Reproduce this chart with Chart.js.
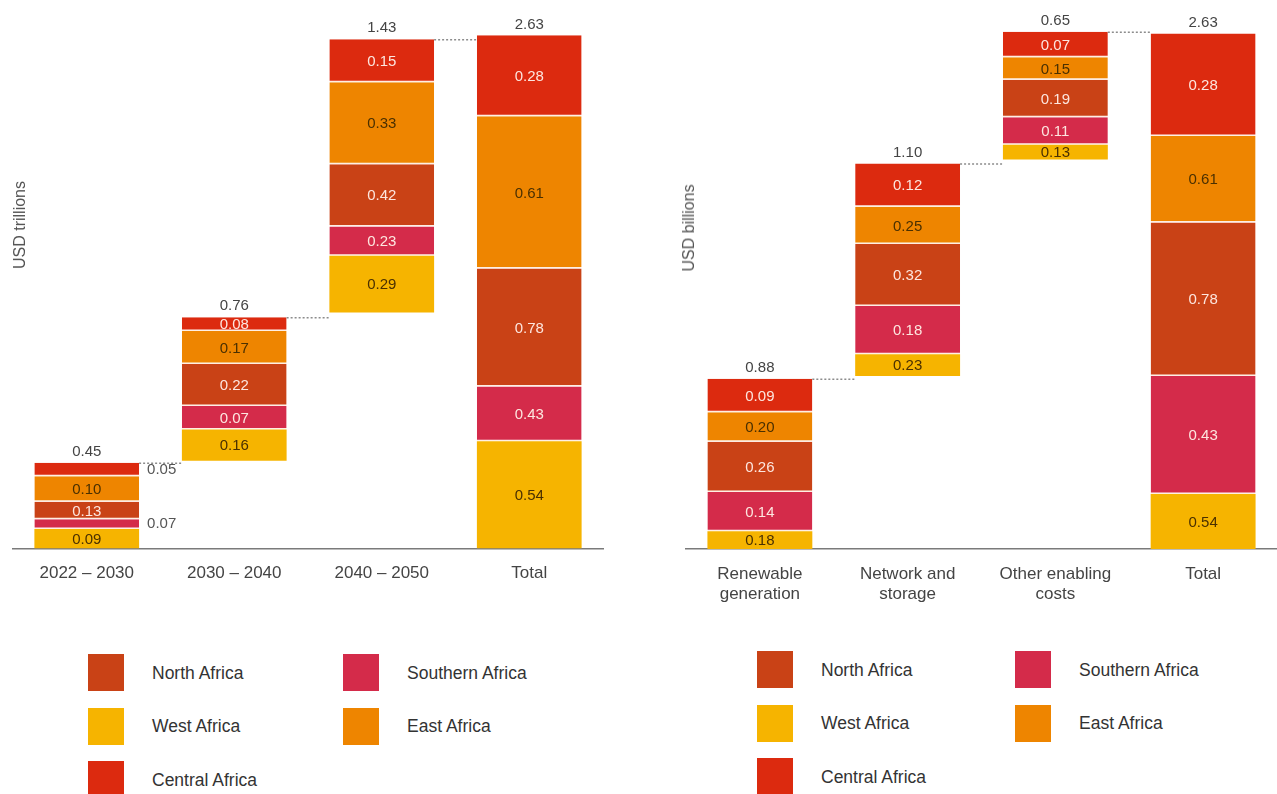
<!DOCTYPE html>
<html>
<head>
<meta charset="utf-8">
<script src="https://cdn.jsdelivr.net/npm/chart.js@4.4.1/dist/chart.umd.min.js"></script>
<style>
body{margin:0;background:#fff;font-family:"Liberation Sans",Arial,sans-serif;}
#page{position:relative;width:1277px;height:794px;overflow:hidden;}
.box{position:absolute;top:0;}
.ytitle{position:absolute;transform:translate(-50%,-50%) rotate(-90deg);font-size:16px;color:#555;white-space:nowrap;}
.sw{position:absolute;width:36px;height:37px;}
.lt{position:absolute;font-size:17.5px;color:#333;transform:translateY(-50%);white-space:nowrap;}
</style>
</head>
<body>
<div id="page">
  <div class="box" style="left:0;width:640px;height:620px"><canvas id="left" width="640" height="620"></canvas></div>
  <div class="box" style="left:640px;width:637px;height:620px"><canvas id="right" width="637" height="620"></canvas></div>
  <div class="ytitle" style="left:20px;top:225px">USD trillions</div>
  <div class="ytitle" style="left:689px;top:228px">USD billions</div>
  <div id="legends"></div>
</div>
<script>
// =========================== Data
const regions = ['West Africa', 'Southern Africa', 'North Africa', 'East Africa', 'Central Africa']
const colors = ['#f6b400', '#d42b4a', '#c94216', '#ee8500', '#dc2a0f']
const textColors = ['#4a3000', '#fde6df', '#fde6df', '#4a3000', '#fde6df']

// left chart - by period (USD trillions)
const periods = ['2022 – 2030', '2030 – 2040', '2040 – 2050', 'Total']
const periodTotals = [0.45, 0.76, 1.43, 2.63]
// heights as drawn in the picture
const periodWest     = [0.10, 0.16, 0.29, 0.55]
const periodSouthern = [0.05, 0.12, 0.15, 0.28]
const periodNorth    = [0.09, 0.215, 0.32, 0.605]
const periodEast     = [0.13, 0.17, 0.42, 0.78]
const periodCentral  = [0.07, 0.07, 0.22, 0.415]
// numbers printed on the segments
const periodWestLbl     = ['0.09', '0.16', '0.29', '0.54']
const periodSouthernLbl = ['0.07', '0.07', '0.23', '0.43']
const periodNorthLbl    = ['0.13', '0.22', '0.42', '0.78']
const periodEastLbl     = ['0.10', '0.17', '0.33', '0.61']
const periodCentralLbl  = ['0.05', '0.08', '0.15', '0.28']

// right chart - by cost type (USD billions)
const costTypes = [['Renewable', 'generation'], ['Network and', 'storage'], ['Other enabling', 'costs'], 'Total']
const costTotals = [0.88, 1.10, 0.65, 2.63]
const costWest     = [0.09, 0.11, 0.075, 0.28]
const costSouthern = [0.20, 0.245, 0.14, 0.60]
const costNorth    = [0.255, 0.315, 0.19, 0.78]
const costEast     = [0.15, 0.19, 0.115, 0.44]
const costCentral  = [0.17, 0.22, 0.13, 0.52]
const costWestLbl     = ['0.18', '0.23', '0.13', '0.54']
const costSouthernLbl = ['0.14', '0.18', '0.11', '0.43']
const costNorthLbl    = ['0.26', '0.32', '0.19', '0.78']
const costEastLbl     = ['0.20', '0.25', '0.15', '0.61']
const costCentralLbl  = ['0.09', '0.12', '0.07', '0.28']

Chart.defaults.font.family = '"Liberation Sans", Arial, sans-serif'

// =========================== Callbacks / Functions
function build_datasets(heights, labels, totals){
    // waterfall bases: each step starts at the running total, last bar (Total) from 0
    const n = totals.length
    const bases = []
    let run = 0
    for(let j = 0; j < n; j++){
        bases.push(j == n - 1 ? 0 : run)
        run += totals[j]
    }
    const acc = bases.slice()
    return heights.map((h, i) => {
        const data = h.map((v, j) => {
            const lo = acc[j]
            acc[j] = lo + v
            return [lo, acc[j]]
        })
        return {
            label: regions[i],
            data: data,
            printed: labels[i],
            textColor: textColors[i],
            backgroundColor: colors[i],
            borderColor: 'rgba(255,236,222,0.85)',
            borderWidth: i == 0 ? 0 : {top: 0, left: 0, right: 0, bottom: 1.5},
            borderSkipped: false,
        }
    })
}

const segLabels = {
    id: 'segLabels',
    afterDatasetsDraw(chart, args, opts){
        const ctx = chart.ctx
        ctx.save()
        ctx.font = '15px "Liberation Sans", Arial, sans-serif'
        ctx.textBaseline = 'middle'
        const outside = opts.outside || {}
        chart.data.datasets.forEach((ds, i) => {
            const meta = chart.getDatasetMeta(i)
            meta.data.forEach((bar, j) => {
                const mid = (bar.y + bar.base) / 2
                if(outside[i] && outside[i].includes(j)){
                    ctx.fillStyle = '#555'
                    ctx.textAlign = 'left'
                    ctx.fillText(ds.printed[j], bar.x + bar.width / 2 + 8, mid)
                }else{
                    ctx.fillStyle = ds.textColor
                    ctx.textAlign = 'center'
                    ctx.fillText(ds.printed[j], bar.x, mid + 1)
                }
            })
        })

        // totals above bars + dotted connectors
        const last = chart.getDatasetMeta(chart.data.datasets.length - 1).data
        ctx.fillStyle = '#444'
        ctx.textAlign = 'center'
        last.forEach((bar, j) => {
            ctx.fillText(opts.totals[j].toFixed(2), bar.x, bar.y - 11)
            if(j < last.length - 1){
                const nx = last[j + 1]
                ctx.beginPath()
                ctx.setLineDash([2, 2])
                ctx.lineWidth = 1.5
                ctx.strokeStyle = '#8c8c8c'
                ctx.moveTo(bar.x + bar.width / 2, bar.y + 0.5)
                ctx.lineTo(nx.x - nx.width / 2, bar.y + 0.5)
                ctx.stroke()
            }
        })
        ctx.restore()
    }
}

function waterfall(id, cats, datasets, totals, ymax, pad, outside){
    new Chart(document.getElementById(id), {
        type: 'bar',
        data: {
            labels: cats,
            datasets: datasets
        },
        options: {
            responsive: false,
            animation: false,
            layout: {padding: pad},
            datasets: {
                bar: {
                    grouped: false,
                    categoryPercentage: 1,
                    barPercentage: 0.71
                }
            },
            scales: {
                x: {
                    grid: {display: false},
                    border: {display: true, color: '#7a7a7a', width: 1.5},
                    ticks: {
                        color: '#444',
                        padding: 7,
                        font: {size: 17, lineHeight: 1.2},
                        maxRotation: 0
                    },
                    afterFit: function(scale){ scale.height = 60 }
                },
                y: {
                    display: false,
                    min: 0,
                    max: ymax
                }
            },
            plugins: {
                legend: {display: false},
                tooltip: {enabled: false},
                segLabels: {totals: totals, outside: outside}
            }
        },
        plugins: [segLabels]
    })
}

function legend(x1, x2, y0){
    // 2 columns: North / Southern, West / East, Central
    const order = [2, 1, 0, 3, 4]
    const box = document.getElementById('legends')
    order.forEach((r, k) => {
        const col = k % 2
        const row = Math.floor(k / 2)
        const x = col == 0 ? x1 : x2
        const y = y0 + row * 53.5
        const sw = document.createElement('div')
        sw.className = 'sw'
        sw.style.left = x + 'px'
        sw.style.top = y + 'px'
        sw.style.background = colors[r]
        const t = document.createElement('div')
        t.className = 'lt'
        t.style.left = (x + 64) + 'px'
        t.style.top = (y + 18.5) + 'px'
        t.textContent = regions[r]
        box.appendChild(sw)
        box.appendChild(t)
    })
}

// =========================== Triggers
const leftSets = build_datasets(
    [periodWest, periodSouthern, periodNorth, periodEast, periodCentral],
    [periodWestLbl, periodSouthernLbl, periodNorthLbl, periodEastLbl, periodCentralLbl],
    periodTotals
)
waterfall('left', periods, leftSets, periodTotals, 2.76,
    {left: 13, right: 37, top: 10, bottom: 11.5}, {1: [0], 4: [0]})

const rightSets = build_datasets(
    [costWest, costSouthern, costNorth, costEast, costCentral],
    [costWestLbl, costSouthernLbl, costNorthLbl, costEastLbl, costCentralLbl],
    costTotals
)
waterfall('right', costTypes, rightSets, costTotals, 2.74,
    {left: 46, right: 0, top: 10, bottom: 11}, {})

legend(88, 343, 654)
legend(757, 1015, 651)
</script>
</body>
</html>
